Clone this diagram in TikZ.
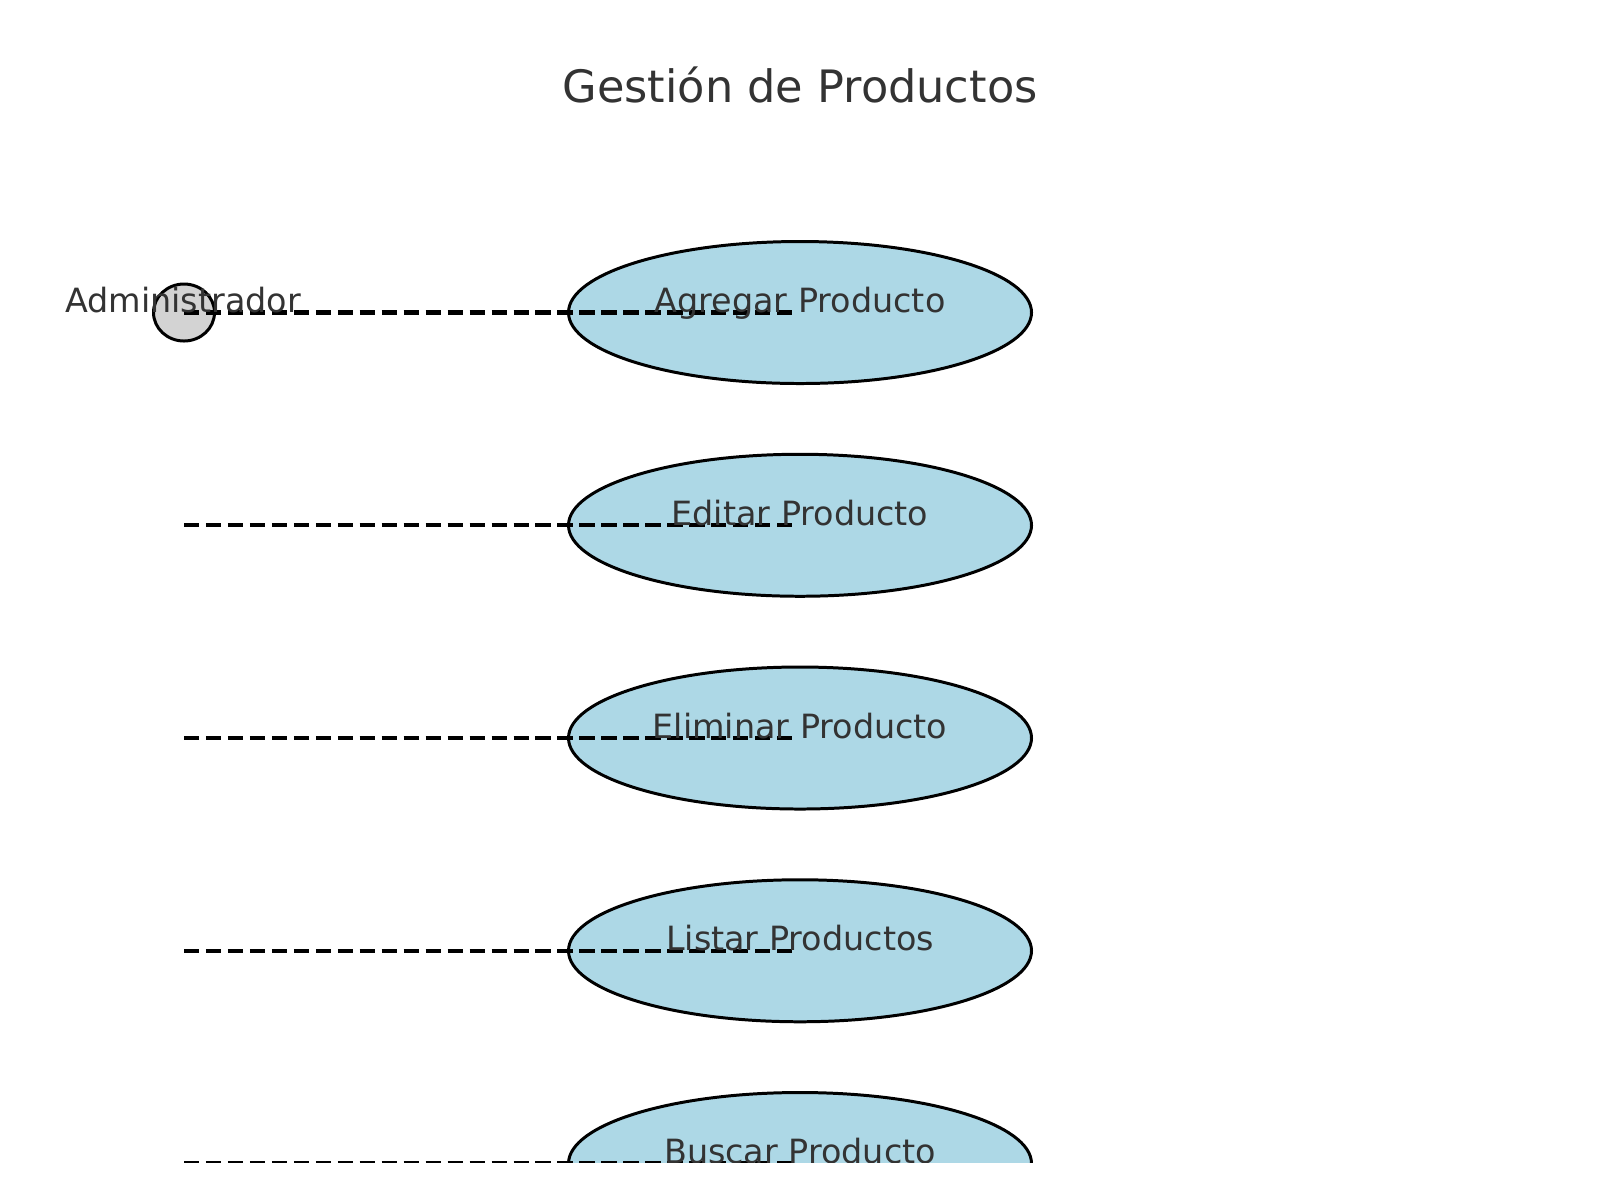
\documentclass[tikz,border=0pt]{standalone}
\usepackage{fontspec}
\setmainfont{DejaVu Sans}
\usetikzlibrary{shapes.geometric}
\definecolor{ucfill}{HTML}{ADD8E6}
\definecolor{actorfill}{HTML}{D3D3D3}
\definecolor{txtgray}{HTML}{333333}

\begin{document}
\begin{tikzpicture}[
  usecase/.style={ellipse, draw=black, line width=0.85pt, fill=ucfill, minimum width=4.63cm, minimum height=1.42cm, inner sep=0pt},
  actor/.style={ellipse, draw=black, line width=0.85pt, fill=actorfill, minimum width=0.61cm, minimum height=0.57cm, inner sep=0pt},
  assoc/.style={line width=1.25pt, dash pattern=on 4.35pt off 1.9pt},
  lbl/.style={anchor=base, text=txtgray, font=\fontsize{9.5}{11}\selectfont}
]
  \useasboundingbox (0,0) rectangle (16,-12);
  \node[anchor=base, text=txtgray, font=\fontsize{12.7}{15}\selectfont] (title) at (8,-1.02) {Gestión de Productos};
  \begin{scope}
    \clip (0,0) rectangle (16,-11.62);
    % casos de uso
    \foreach \i in {0,...,4} {
      \node[usecase] (uc\i) at (8,-3.125-2.1275*\i) {};
    }
    \node[actor] (admin) at (1.84,-3.125) {};
    % asociaciones
    \foreach \i in {0,...,4} {
      \coordinate (s\i) at (admin.center |- uc\i.center);
      \coordinate (e\i) at ([xshift=-0.04cm]uc\i.center);
      \draw[assoc] (s\i) -- (e\i);
    }
    \node[lbl] (adminlbl) at ([xshift=-0.01cm]admin.center) {Administrador};
    \foreach \i/\name in {0/Agregar Producto, 1/Editar Producto, 2/Eliminar Producto, 3/Listar Productos, 4/Buscar Producto} {
      \node[lbl] (t\i) at (uc\i.center) {\name};
    }
  \end{scope}
\end{tikzpicture}
\end{document}
